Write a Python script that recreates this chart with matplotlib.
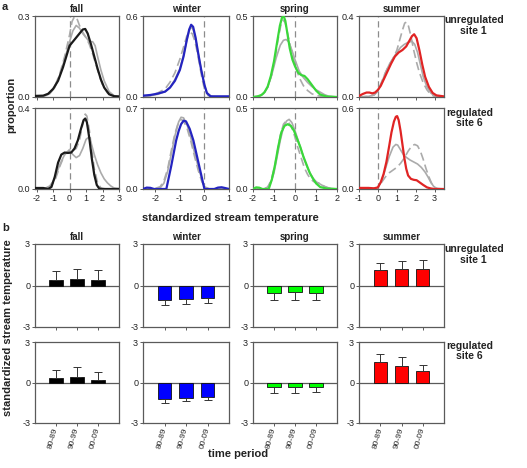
import numpy as np
import matplotlib.pyplot as plt

plt.rcParams['font.family'] = ['Liberation Sans', 'DejaVu Sans']

seasons = ['fall', 'winter', 'spring', 'summer']
periods = ['80-89', '90-99', '00-09']
site_labels = ['unregulated\nsite 1', 'regulated\nsite 6']

# ---- panel a: density curves ----
# fall, unregulated
fall_u_col_x = [-2.1, -1.6, -1.3, -1.0, -0.7, -0.4, -0.2, 0, 0.2, 0.4, 0.6, 0.8, 0.95, 1.1, 1.3, 1.5, 1.7, 1.9, 2.1, 2.4, 2.7, 3.0]
fall_u_col_y = [0.004, 0.005, 0.012, 0.03, 0.06, 0.11, 0.15, 0.19, 0.205, 0.22, 0.235, 0.25, 0.252, 0.235, 0.195, 0.15, 0.105, 0.065, 0.035, 0.01, 0.003, 0.002]
fall_u_gs_x = [-2.1, -1.5, -1.2, -0.9, -0.6, -0.3, 0, 0.2, 0.4, 0.6, 0.8, 1.0, 1.2, 1.4, 1.55, 1.7, 1.9, 2.1, 2.4, 2.7, 3.0]
fall_u_gs_y = [0.002, 0.004, 0.012, 0.035, 0.08, 0.14, 0.205, 0.245, 0.265, 0.255, 0.235, 0.22, 0.205, 0.205, 0.19, 0.15, 0.1, 0.06, 0.02, 0.005, 0.002]
fall_u_gd_x = [-2.1, -1.5, -1.2, -0.9, -0.6, -0.3, 0, 0.15, 0.3, 0.45, 0.6, 0.8, 1.0, 1.2, 1.4, 1.6, 1.8, 2.0, 2.3, 2.6, 3.0]
fall_u_gd_y = [0.002, 0.005, 0.015, 0.04, 0.085, 0.15, 0.23, 0.28, 0.298, 0.29, 0.265, 0.24, 0.22, 0.195, 0.16, 0.12, 0.08, 0.045, 0.015, 0.005, 0.002]
# fall, regulated
fall_r_col_x = [-2.1, -1.6, -1.3, -1.1, -0.9, -0.7, -0.5, -0.3, -0.1, 0.1, 0.3, 0.5, 0.7, 0.85, 0.95, 1.05, 1.2, 1.35, 1.5, 1.65, 1.8, 2.0, 2.5, 3.0]
fall_r_col_y = [0.005, 0.005, 0.0, 0.01, 0.06, 0.13, 0.17, 0.18, 0.178, 0.18, 0.2, 0.24, 0.3, 0.34, 0.348, 0.33, 0.25, 0.15, 0.07, 0.02, 0.002, 0.0, 0.0, 0.0]
fall_r_gs_x = [-2.1, -1.5, -1.2, -0.9, -0.6, -0.3, 0, 0.2, 0.4, 0.6, 0.8, 1.0, 1.15, 1.3, 1.5, 1.7, 1.9, 2.1, 2.3, 2.5, 2.7, 3.0]
fall_r_gs_y = [0.0, 0.003, 0.015, 0.05, 0.12, 0.17, 0.19, 0.17, 0.155, 0.165, 0.2, 0.245, 0.255, 0.23, 0.17, 0.12, 0.08, 0.05, 0.03, 0.015, 0.005, 0.002]
fall_r_gd_x = [-2.1, -1.5, -1.2, -0.9, -0.6, -0.3, 0, 0.2, 0.4, 0.6, 0.8, 0.95, 1.05, 1.2, 1.35, 1.5, 1.7, 1.9, 2.2, 3.0]
fall_r_gd_y = [0.0, 0.002, 0.01, 0.04, 0.11, 0.17, 0.195, 0.19, 0.2, 0.24, 0.32, 0.37, 0.36, 0.29, 0.19, 0.1, 0.03, 0.005, 0.0, 0.0]
# winter, unregulated
winter_u_col_x = [-2.5, -2.2, -1.9, -1.6, -1.4, -1.2, -1.0, -0.85, -0.72, -0.62, -0.54, -0.46, -0.36, -0.25, -0.13, 0, 0.1, 0.25, 0.5, 1.0]
winter_u_col_y = [0.01, 0.015, 0.025, 0.04, 0.07, 0.12, 0.2, 0.3, 0.42, 0.5, 0.535, 0.52, 0.44, 0.32, 0.2, 0.09, 0.03, 0.005, 0.005, 0.005]
winter_u_gs_x = [-2.5, -2.2, -1.9, -1.6, -1.4, -1.2, -1.0, -0.85, -0.72, -0.62, -0.54, -0.46, -0.36, -0.25, -0.13, 0, 0.1, 0.3, 1.0]
winter_u_gs_y = [0.005, 0.01, 0.02, 0.04, 0.07, 0.13, 0.21, 0.31, 0.42, 0.49, 0.52, 0.5, 0.43, 0.32, 0.2, 0.09, 0.03, 0.003, 0.0]
winter_u_gd_x = [-2.5, -2.2, -1.9, -1.6, -1.4, -1.2, -1.0, -0.85, -0.72, -0.62, -0.5, -0.4, -0.3, -0.2, -0.1, 0, 0.15, 0.4, 1.0]
winter_u_gd_y = [0.005, 0.01, 0.03, 0.06, 0.11, 0.18, 0.28, 0.37, 0.45, 0.48, 0.47, 0.42, 0.34, 0.24, 0.14, 0.06, 0.01, 0.0, 0.0]
# winter, regulated
winter_r_col_x = [-2.5, -2.35, -2.2, -2.05, -1.9, -1.7, -1.55, -1.45, -1.35, -1.25, -1.15, -1.05, -0.95, -0.85, -0.75, -0.6, -0.45, -0.3, -0.15, 0, 0.2, 0.4, 0.55, 0.7, 0.85, 1.0]
winter_r_col_y = [0.0, 0.012, 0.01, 0.0, 0.0, 0.0, 0.0, 0.1, 0.2, 0.31, 0.42, 0.5, 0.56, 0.59, 0.585, 0.52, 0.42, 0.28, 0.14, 0.0, 0.0, 0.0, 0.012, 0.015, 0.008, 0.0]
winter_r_gs_x = [-2.5, -2.0, -1.8, -1.65, -1.5, -1.35, -1.2, -1.05, -0.95, -0.85, -0.7, -0.55, -0.4, -0.25, -0.1, 0, 0.2, 1.0]
winter_r_gs_y = [0, 0, 0.01, 0.05, 0.15, 0.3, 0.46, 0.58, 0.62, 0.615, 0.55, 0.44, 0.31, 0.19, 0.08, 0.02, 0, 0]
winter_r_gd_x = [-2.5, -2.0, -1.8, -1.65, -1.5, -1.35, -1.2, -1.05, -0.95, -0.85, -0.7, -0.55, -0.4, -0.25, -0.1, 0.05, 0.2, 1.0]
winter_r_gd_y = [0, 0.005, 0.02, 0.07, 0.17, 0.33, 0.48, 0.58, 0.6, 0.59, 0.52, 0.41, 0.28, 0.16, 0.06, 0.01, 0, 0]
# spring, unregulated
spring_u_col_x = [-2, -1.8, -1.6, -1.45, -1.3, -1.15, -1.0, -0.85, -0.72, -0.62, -0.54, -0.46, -0.36, -0.25, -0.12, 0, 0.15, 0.3, 0.45, 0.6, 0.8, 1.0, 1.2, 1.5, 2.0]
spring_u_col_y = [0.0, 0.003, 0.012, 0.03, 0.065, 0.13, 0.22, 0.34, 0.44, 0.49, 0.5, 0.47, 0.39, 0.3, 0.23, 0.19, 0.15, 0.135, 0.13, 0.11, 0.075, 0.04, 0.015, 0.003, 0.0]
spring_u_gs_x = [-2, -1.7, -1.5, -1.3, -1.1, -0.9, -0.7, -0.55, -0.42, -0.3, -0.15, 0, 0.2, 0.4, 0.6, 0.8, 1.0, 1.2, 1.4, 1.6, 2.0]
spring_u_gs_y = [0, 0.005, 0.02, 0.06, 0.14, 0.24, 0.32, 0.35, 0.355, 0.34, 0.29, 0.23, 0.16, 0.12, 0.09, 0.065, 0.045, 0.03, 0.015, 0.005, 0.0]
spring_u_gd_x = [-2, -1.7, -1.5, -1.3, -1.1, -0.95, -0.8, -0.68, -0.57, -0.47, -0.35, -0.2, 0, 0.2, 0.4, 0.6, 0.8, 1.0, 1.3, 2.0]
spring_u_gd_y = [0, 0.005, 0.02, 0.06, 0.14, 0.24, 0.36, 0.44, 0.475, 0.46, 0.39, 0.3, 0.2, 0.12, 0.07, 0.04, 0.02, 0.01, 0.003, 0]
# spring, regulated
spring_r_col_x = [-2, -1.85, -1.7, -1.55, -1.4, -1.25, -1.1, -0.95, -0.8, -0.65, -0.5, -0.35, -0.2, -0.05, 0.1, 0.25, 0.4, 0.55, 0.7, 0.85, 1.0, 1.2, 1.5, 2.0]
spring_r_col_y = [0.0, 0.01, 0.008, 0.0, 0.0, 0.0, 0.06, 0.15, 0.26, 0.35, 0.39, 0.4, 0.39, 0.36, 0.31, 0.26, 0.2, 0.15, 0.1, 0.065, 0.035, 0.012, 0.003, 0.0]
spring_r_gs_x = [-2, -1.5, -1.3, -1.15, -1.0, -0.85, -0.7, -0.55, -0.4, -0.28, -0.15, 0, 0.15, 0.3, 0.45, 0.6, 0.75, 0.9, 1.05, 1.2, 1.4, 1.7, 2.0]
spring_r_gs_y = [0, 0, 0.01, 0.04, 0.1, 0.2, 0.3, 0.38, 0.42, 0.43, 0.41, 0.36, 0.3, 0.24, 0.18, 0.13, 0.09, 0.06, 0.04, 0.03, 0.015, 0.003, 0]
spring_r_gd_x = [-2, -1.5, -1.3, -1.15, -1.0, -0.85, -0.7, -0.55, -0.42, -0.3, -0.15, 0, 0.15, 0.3, 0.45, 0.6, 0.75, 0.9, 1.05, 1.2, 1.35, 1.6, 2.0]
spring_r_gd_y = [0, 0, 0.012, 0.05, 0.12, 0.22, 0.33, 0.4, 0.42, 0.41, 0.38, 0.32, 0.25, 0.19, 0.13, 0.09, 0.06, 0.045, 0.04, 0.035, 0.02, 0.005, 0]
# summer, unregulated
summer_u_col_x = [-1, -0.8, -0.6, -0.45, -0.3, -0.15, 0, 0.15, 0.3, 0.5, 0.7, 0.9, 1.1, 1.3, 1.5, 1.65, 1.8, 1.92, 2.05, 2.2, 2.35, 2.5, 2.7, 2.9, 3.1, 3.5]
summer_u_col_y = [0.005, 0.015, 0.022, 0.022, 0.018, 0.022, 0.035, 0.055, 0.085, 0.125, 0.165, 0.2, 0.22, 0.232, 0.25, 0.275, 0.3, 0.31, 0.29, 0.23, 0.16, 0.1, 0.05, 0.02, 0.008, 0.003]
summer_u_gs_x = [-1, -0.5, -0.2, 0, 0.2, 0.4, 0.6, 0.8, 1.0, 1.2, 1.4, 1.6, 1.8, 1.95, 2.1, 2.25, 2.4, 2.6, 2.8, 3.0, 3.5]
summer_u_gs_y = [0, 0.003, 0.01, 0.03, 0.07, 0.12, 0.16, 0.19, 0.22, 0.245, 0.26, 0.27, 0.275, 0.26, 0.22, 0.16, 0.1, 0.05, 0.02, 0.005, 0]
summer_u_gd_x = [-1, -0.5, -0.2, 0, 0.2, 0.4, 0.6, 0.8, 1.0, 1.15, 1.3, 1.42, 1.52, 1.62, 1.75, 1.9, 2.05, 2.2, 2.4, 2.6, 2.8, 3.0, 3.5]
summer_u_gd_y = [0, 0.003, 0.01, 0.03, 0.075, 0.12, 0.16, 0.19, 0.23, 0.28, 0.33, 0.365, 0.37, 0.35, 0.3, 0.23, 0.17, 0.12, 0.07, 0.035, 0.012, 0.003, 0]
# summer, regulated
summer_r_col_x = [-1, -0.5, -0.2, 0, 0.15, 0.3, 0.45, 0.6, 0.72, 0.85, 0.95, 1.02, 1.1, 1.2, 1.3, 1.4, 1.5, 1.6, 1.75, 1.9, 2.05, 2.2, 2.4, 2.6, 2.8, 3.0, 3.5]
summer_r_col_y = [0.008, 0.008, 0.005, 0.012, 0.05, 0.11, 0.2, 0.32, 0.42, 0.5, 0.535, 0.54, 0.51, 0.43, 0.33, 0.23, 0.15, 0.1, 0.075, 0.068, 0.065, 0.05, 0.03, 0.012, 0.004, 0, 0]
summer_r_gs_x = [-1, -0.3, 0, 0.2, 0.4, 0.6, 0.8, 0.95, 1.05, 1.2, 1.35, 1.5, 1.7, 1.9, 2.1, 2.3, 2.5, 2.65, 2.8, 2.95, 3.1, 3.5]
summer_r_gs_y = [0, 0, 0.01, 0.06, 0.15, 0.24, 0.31, 0.33, 0.325, 0.29, 0.255, 0.235, 0.215, 0.2, 0.185, 0.16, 0.125, 0.09, 0.05, 0.02, 0.005, 0]
summer_r_gd_x = [-1, -0.3, 0, 0.2, 0.4, 0.6, 0.8, 1.0, 1.2, 1.4, 1.6, 1.8, 1.95, 2.1, 2.25, 2.4, 2.55, 2.7, 2.85, 3.0, 3.2, 3.5]
summer_r_gd_y = [0, 0, 0.01, 0.05, 0.09, 0.12, 0.14, 0.16, 0.19, 0.23, 0.28, 0.32, 0.33, 0.32, 0.28, 0.22, 0.15, 0.09, 0.04, 0.01, 0, 0]

# ---- panel b: mean standardized temperature per decade ----
fall_u_mean = [0.39, 0.44, 0.39]
fall_u_err = [0.65, 0.72, 0.70]
winter_u_mean = [-1.02, -0.94, -0.90]
winter_u_err = [0.38, 0.37, 0.33]
spring_u_mean = [-0.56, -0.48, -0.53]
spring_u_err = [0.46, 0.54, 0.49]
summer_u_mean = [1.09, 1.16, 1.21]
summer_u_err = [0.56, 0.58, 0.65]

fall_r_mean = [0.34, 0.42, 0.22]
fall_r_err = [0.62, 0.76, 0.59]
winter_r_mean = [-1.20, -1.13, -1.08]
winter_r_err = [0.30, 0.24, 0.22]
spring_r_mean = [-0.34, -0.34, -0.32]
spring_r_err = [0.47, 0.42, 0.39]
summer_r_mean = [1.50, 1.23, 0.83]
summer_r_err = [0.63, 0.63, 0.44]

colors_line = ['#1a1a1a', '#2424c0', '#3ad83a', '#e02424']
colors_bar = ['#000000', '#0000ff', '#00ff00', '#ff0000']
gray = '#ababab'
frame = '#5a5a5a'

curves = {
    ('fall', 0): [(fall_u_gs_x, fall_u_gs_y), (fall_u_gd_x, fall_u_gd_y), (fall_u_col_x, fall_u_col_y)],
    ('fall', 1): [(fall_r_gs_x, fall_r_gs_y), (fall_r_gd_x, fall_r_gd_y), (fall_r_col_x, fall_r_col_y)],
    ('winter', 0): [(winter_u_gs_x, winter_u_gs_y), (winter_u_gd_x, winter_u_gd_y), (winter_u_col_x, winter_u_col_y)],
    ('winter', 1): [(winter_r_gs_x, winter_r_gs_y), (winter_r_gd_x, winter_r_gd_y), (winter_r_col_x, winter_r_col_y)],
    ('spring', 0): [(spring_u_gs_x, spring_u_gs_y), (spring_u_gd_x, spring_u_gd_y), (spring_u_col_x, spring_u_col_y)],
    ('spring', 1): [(spring_r_gs_x, spring_r_gs_y), (spring_r_gd_x, spring_r_gd_y), (spring_r_col_x, spring_r_col_y)],
    ('summer', 0): [(summer_u_gs_x, summer_u_gs_y), (summer_u_gd_x, summer_u_gd_y), (summer_u_col_x, summer_u_col_y)],
    ('summer', 1): [(summer_r_gs_x, summer_r_gs_y), (summer_r_gd_x, summer_r_gd_y), (summer_r_col_x, summer_r_col_y)],
}
bars = {
    ('fall', 0): (fall_u_mean, fall_u_err), ('fall', 1): (fall_r_mean, fall_r_err),
    ('winter', 0): (winter_u_mean, winter_u_err), ('winter', 1): (winter_r_mean, winter_r_err),
    ('spring', 0): (spring_u_mean, spring_u_err), ('spring', 1): (spring_r_mean, spring_r_err),
    ('summer', 0): (summer_u_mean, summer_u_err), ('summer', 1): (summer_r_mean, summer_r_err),
}

xlims = [(-2.1, 3), (-2.5, 1), (-2, 2), (-1, 3.5)]
xticks = [[-2, -1, 0, 1, 2, 3], [-2, -1, 0, 1], [-2, -1, 0, 1, 2], [-1, 0, 1, 2, 3]]
ymax = [[0.3, 0.6, 0.5, 0.4], [0.4, 0.7, 0.5, 0.6]]

W, H = 527, 468
fig = plt.figure(figsize=(W / 100, H / 100), dpi=100)

col_px = [(35, 84), (143, 86), (253, 84), (359, 85)]
row_a = [(16, 97), (108, 189)]
row_b = [(244, 327), (342, 423)]
fs = 6.5


def make_ax(c, r):
    x0, w = col_px[c]
    t, b = r
    ax = fig.add_axes([x0 / W, 1 - b / H, w / W, (b - t) / H])
    for s in ax.spines.values():
        s.set_color(frame)
        s.set_linewidth(0.9)
    ax.tick_params(direction='out', length=2, width=0.7, colors=frame, labelcolor='#222222',
                   labelsize=fs, pad=1.5)
    return ax


# panel a
for ri, r in enumerate(row_a):
    for ci, season in enumerate(seasons):
        ax = make_ax(ci, r)
        gs, gd, col = curves[(season, ri)]
        ax.plot(gs[0], gs[1], color=gray, lw=1.2, zorder=2)
        ax.plot(gd[0], gd[1], color=gray, lw=1.2, dashes=(5, 2.5), zorder=2)
        ax.plot(col[0], col[1], color=colors_line[ci], lw=1.6, zorder=3)
        ax.axvline(0, color='#8c8c8c', lw=0.9, dashes=(5, 3), zorder=1)
        ax.set_xlim(xlims[ci])
        ax.set_ylim(0, ymax[ri][ci])
        ax.set_xticks(xticks[ci])
        ax.set_yticks([0, ymax[ri][ci]])
        ax.set_yticklabels(['%.1f' % v for v in [0, ymax[ri][ci]]])
        if ri == 1:
            ax.set_xticklabels([str(v) for v in xticks[ci]])
        else:
            ax.set_xticklabels([])
            ax.set_title(season, fontsize=7, fontweight='bold', pad=3, color='#222222')

# panel b
xpos = np.arange(len(periods))
for ri, r in enumerate(row_b):
    for ci, season in enumerate(seasons):
        ax = make_ax(ci, r)
        mean, err = bars[(season, ri)]
        mean = np.array(mean)
        err = np.array(err)
        lower = np.where(mean < 0, err, 0)
        upper = np.where(mean >= 0, err, 0)
        ax.axhline(0, color=frame, lw=0.9, zorder=1)
        ax.bar(xpos, mean, width=0.62, color=colors_bar[ci], edgecolor='#111111', lw=0.6, zorder=3,
               yerr=[lower, upper], error_kw=dict(ecolor='#333333', elinewidth=0.7, capsize=3, capthick=0.7))
        ax.set_xlim(-1, 3)
        ax.set_ylim(-3, 3)
        ax.set_yticks([-3, 0, 3])
        ax.set_yticklabels(['-3', '0', '3'])
        ax.set_xticks(xpos)
        if ri == 1:
            ax.set_xticklabels(periods, rotation=75, ha='right', va='center', rotation_mode='anchor',
                               fontsize=6)
        else:
            ax.set_xticklabels([])
            ax.set_title(season, fontsize=7, fontweight='bold', pad=3, color='#222222')

lab = dict(fontsize=8, fontweight='bold', color='#222222')
side = dict(fontsize=7.5, fontweight='bold', color='#222222', ha='center', va='center', linespacing=1.1)
fig.text(0.899, 0.946, site_labels[0], **side)
fig.text(0.891, 0.748, site_labels[1], **side)
fig.text(0.899, 0.457, site_labels[0], **side)
fig.text(0.891, 0.250, site_labels[1], **side)

fig.text(0.022, 0.776, 'proportion', rotation=90, ha='center', va='center', **lab)
fig.text(0.438, 0.534, 'standardized stream temperature', ha='center', va='center', **lab)
fig.text(0.016, 0.299, 'standardized stream temperature', rotation=90, ha='center', va='center', **lab)
fig.text(0.452, 0.030, 'time period', ha='center', va='center', **lab)
fig.text(0.004, 0.996, 'a', ha='left', va='top', **lab)
fig.text(0.004, 0.512, 'b', ha='left', va='center', **lab)

fig.savefig('out.png', dpi=100)
